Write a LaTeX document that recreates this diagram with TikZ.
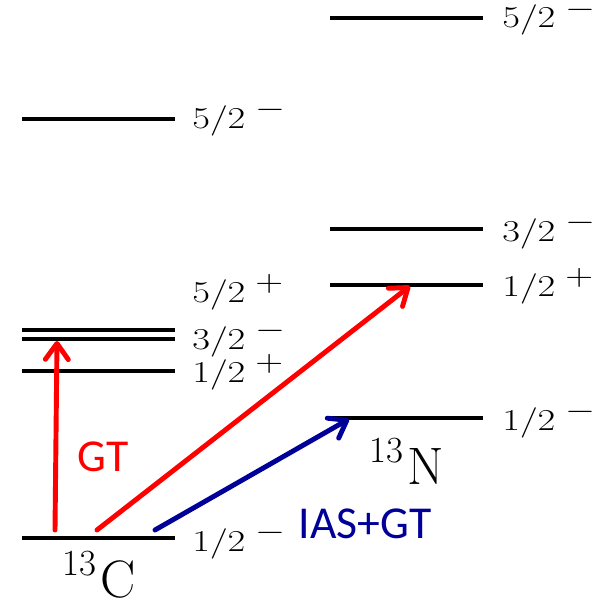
\documentclass[tikz,border=0pt]{standalone}
\usepackage{graphicx}
\usepackage{fontspec}
\newfontfamily\calib{Carlito}
\usetikzlibrary{arrows.meta}

% spin-parity label: J = #1/2, parity #2
\newcommand{\jpi}[2]{\scalebox{1.27}[1]{$#1/2$\kern4.5pt\raisebox{6.2pt}[11pt]{$#2$}}}
% nucleus with mass number 13
\newcommand{\nuc}[1]{\raisebox{12.5pt}{\fontsize{21}{24}\selectfont 13}\kern2.5pt#1}

\begin{document}
\begin{tikzpicture}[
    x=0.02cm, y=0.02cm,
    level/.style={line width=2.3pt},
    spin/.style={anchor=base west, inner sep=0pt, font=\fontsize{16}{19}\selectfont},
    nucl/.style={anchor=base, inner sep=0pt, font=\fontsize{30}{34}\selectfont},
    trlabel/.style={inner sep=0pt, font=\calib\fontsize{26}{30}\selectfont},
    trans/.style={line width=2.8pt, line cap=round,
        -{Straight Barb[length=3.2mm, width=4.6mm, round]}}
]
\useasboundingbox (0,0) rectangle (596,-605);

% 13C levels
\draw[level] (22,-538) coordinate (cgs) -- (175,-538);
\draw[level] (22,-371) -- (175,-371) coordinate (c1);
\draw[level] (22,-339) coordinate (c2) -- (175,-339);
\draw[level] (22,-330) -- (175,-330);
\draw[level] (22,-119) -- (175,-119);

% 13N levels
\draw[level] (330,-418) coordinate (n0) -- (483,-418);
\draw[level] (330,-285) coordinate (n1) -- (483,-285);
\draw[level] (330,-229) -- (483,-229);
\draw[level] (330,-18) -- (483,-18);

% spins
\node[spin] (cl0) at (192,-551) {\jpi{1}{-}};
\node[spin] (cl1) at (192,-382) {\jpi{1}{+}};
\node[spin] (cl2) at (192,-349) {\jpi{3}{-}};
\node[spin] (cl3) at (192,-302) {\jpi{5}{+}};
\node[spin] (cl4) at (192,-128) {\jpi{5}{-}};
\node[spin] (nl0) at (502,-430) {\jpi{1}{-}};
\node[spin] (nl1) at (502,-296) {\jpi{1}{+}};
\node[spin] (nl2) at (502,-241) {\jpi{3}{-}};
\node[spin] (nl3) at (502,-28) {\jpi{5}{-}};

% nuclei
\node[nucl] (carbon) at (99,-597) {\nuc{C}};
\node[nucl] (nitrogen) at (407,-484) {\nuc{N}};

% transitions
\coordinate (s1) at (55,-530);
\coordinate (s2) at (97,-530);
\coordinate (s3) at (155,-530);
\coordinate (t1) at (57,-341);
\coordinate (t2) at (410,-286);
\coordinate (t3) at (349,-419);
\draw[trans, red] (s1) -- (t1);
\draw[trans, red] (s2) -- (t2);
\draw[trans, blue!60!black] (s3) -- (t3);

\node[trlabel, red] (gt) at (103,-457) {GT};
\node[trlabel, blue!60!black] (ias) at (365,-524) {IAS+GT};

\end{tikzpicture}
\end{document}
